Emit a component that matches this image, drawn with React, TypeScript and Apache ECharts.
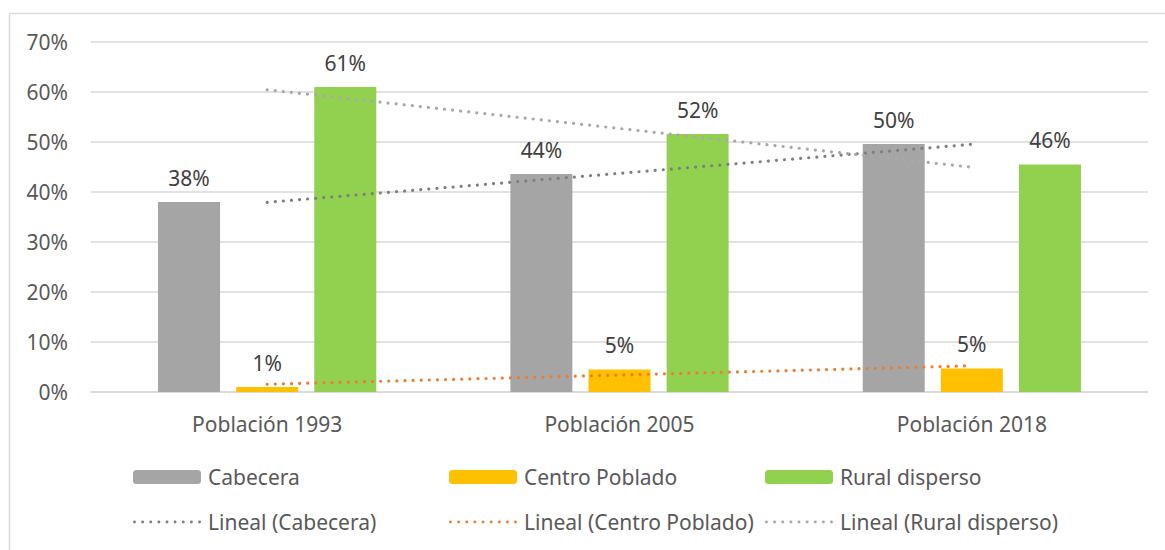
import React, { useEffect, useRef } from "react";
import * as echarts from "echarts";

const categories = ["Población 1993", "Población 2005", "Población 2018"];
const cabecera = [38.0, 43.6, 49.6];
const centroPoblado = [1.0, 4.5, 4.7];
const ruralDisperso = [61.0, 51.6, 45.5];
const yTicks = { min: 0, max: 70, interval: 10 };

// Excel-style linear trend line (least squares over x = 1..n)
function linearTrend(values: number[]): number[] {
  const n = values.length;
  const xs = values.map((_, i) => i + 1);
  const mx = xs.reduce((a, b) => a + b, 0) / n;
  const my = values.reduce((a, b) => a + b, 0) / n;
  let num = 0;
  let den = 0;
  for (let i = 0; i < n; i++) {
    num += (xs[i] - mx) * (values[i] - my);
    den += (xs[i] - mx) * (xs[i] - mx);
  }
  const slope = num / den;
  const icpt = my - slope * mx;
  return xs.map((x) => +(icpt + slope * x).toFixed(3));
}

// dotted legend icon: a row of small circles
function dotsIcon(): string {
  let d = "";
  for (let i = 0; i < 9; i++) {
    const x = i * 8.25;
    d += `M${x} 1.5a1.5 1.5 0 1 0 3 0a1.5 1.5 0 1 0 -3 0Z`;
  }
  return "path://" + d;
}

const FONT = "Noto Sans";
const TXT = "#595959";
const FS = 21;

export default function App() {
  const ref = useRef<HTMLDivElement>(null);
  useEffect(() => {
    if (!ref.current) return;
    const chart = echarts.init(ref.current, null, { renderer: "svg" });
    const barLabel = {
      show: true,
      position: "top",
      distance: 14,
      color: "#404040",
      fontFamily: FONT,
      fontSize: FS,
      formatter: (p: any) => Math.round(p.value) + "%",
    };
    const dot = (color: string) => ({
      color,
      width: 3.2,
      type: [0.01, 8.1],
      cap: "round",
    });
    const legendBase = {
      itemWidth: 68,
      itemHeight: 14,
      textStyle: {
        color: TXT,
        fontFamily: FONT,
        fontSize: FS,
        lineHeight: 24,
        padding: [0, 0, 0, 2],
      },
      selectedMode: false,
    };
    const lineLegend = { ...legendBase, icon: dotsIcon(), itemHeight: 3 };
    chart.setOption({
      animation: false,
      backgroundColor: "#ffffff",
      graphic: [
        {
          type: "rect",
          shape: { x: 9.5, y: 13.5, width: 1200, height: 600 },
          style: { fill: "none", stroke: "#d9d9d9", lineWidth: 1.5 },
          silent: true,
        },
      ],
      grid: { left: 91, right: 17, top: 42, bottom: 158 },
      xAxis: {
        type: "category",
        data: categories,
        axisLine: { show: true, lineStyle: { color: "#d9d9d9", width: 1.5 } },
        axisTick: { show: false },
        axisLabel: {
          color: TXT,
          fontFamily: FONT,
          fontSize: FS,
          lineHeight: 24,
          margin: 20,
        },
      },
      yAxis: {
        type: "value",
        min: yTicks.min,
        max: yTicks.max,
        interval: yTicks.interval,
        axisLine: { show: false },
        axisTick: { show: false },
        splitLine: { lineStyle: { color: "#d9d9d9", width: 1.5 } },
        axisLabel: {
          color: TXT,
          fontFamily: FONT,
          fontSize: FS,
          margin: 23,
          formatter: "{value}%",
        },
      },
      legend: [
        { ...legendBase, data: ["Cabecera"], left: 128, top: 460 },
        { ...legendBase, data: ["Centro Poblado"], left: 444, top: 460 },
        { ...legendBase, data: ["Rural disperso"], left: 760, top: 460 },
        { ...lineLegend, data: ["Lineal (Cabecera)"], left: 128, top: 505 },
        { ...lineLegend, data: ["Lineal (Centro Poblado)"], left: 444, top: 505 },
        { ...lineLegend, data: ["Lineal (Rural disperso)"], left: 760, top: 505 },
      ],
      series: [
        {
          name: "Cabecera",
          type: "bar",
          data: cabecera,
          barWidth: 62,
          barGap: "26%",
          itemStyle: { color: "#A5A5A5" },
          label: barLabel,
        },
        {
          name: "Centro Poblado",
          type: "bar",
          data: centroPoblado,
          barWidth: 62,
          barGap: "26%",
          itemStyle: { color: "#FFC000" },
          label: barLabel,
        },
        {
          name: "Rural disperso",
          type: "bar",
          data: ruralDisperso,
          barWidth: 62,
          barGap: "26%",
          itemStyle: { color: "#92D050" },
          label: barLabel,
        },
        {
          name: "Lineal (Cabecera)",
          type: "line",
          data: linearTrend(cabecera),
          symbol: "none",
          z: 5,
          lineStyle: dot("#7F7F7F"),
          itemStyle: { color: "#7F7F7F" },
        },
        {
          name: "Lineal (Centro Poblado)",
          type: "line",
          data: linearTrend(centroPoblado),
          symbol: "none",
          z: 5,
          lineStyle: dot("#ED7D31"),
          itemStyle: { color: "#ED7D31" },
        },
        {
          name: "Lineal (Rural disperso)",
          type: "line",
          data: linearTrend(ruralDisperso),
          symbol: "none",
          z: 5,
          lineStyle: dot("#A9A9A9"),
          itemStyle: { color: "#A9A9A9" },
        },
      ],
    });
    return () => chart.dispose();
  }, []);
  return (
    <div
      ref={ref}
      style={{ position: "fixed", left: 0, top: 0, width: 1165, height: 550 }}
    />
  );
}
